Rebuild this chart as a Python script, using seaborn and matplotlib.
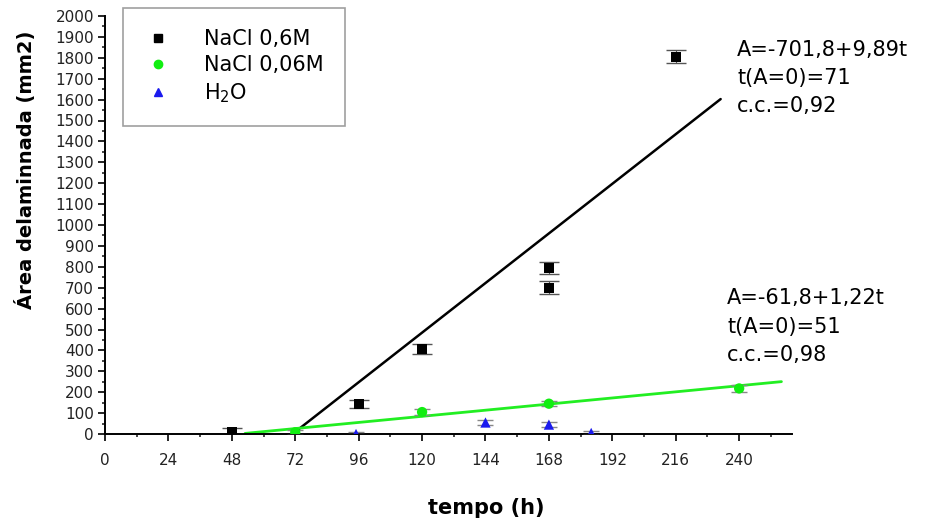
import numpy as np
import pandas as pd
import matplotlib
matplotlib.use("Agg")
import matplotlib.pyplot as plt
import seaborn as sns
from matplotlib.ticker import MultipleLocator
from matplotlib.lines import Line2D

sns.set_theme(style="ticks")
plt.rcParams['font.family'] = ['DejaVu Sans']
plt.rcParams['text.color'] = 'black'

# ---- data ----
t_nacl06 = [48, 96, 120, 168, 168, 216]
a_nacl06 = [8, 145, 408, 795, 700, 1805]
e_nacl06 = [20, 20, 25, 30, 30, 30]

t_nacl006 = [72, 120, 168, 240]
a_nacl006 = [8, 105, 145, 218]
e_nacl006 = [12, 15, 12, 15]

t_h2o = [95, 144, 168, 184]
a_h2o = [0, 55, 45, 5]
e_h2o = [8, 10, 12, 8]

# linear fits  A = a + b t
fit06_a, fit06_b = -701.8, 9.89
fit06_range = [71, 233]
fit006_a, fit006_b = -61.8, 1.22
fit006_range = [53, 256]

series_labels = ["NaCl 0,6M", "NaCl 0,06M", "H$_2$O"]
fit_texts = [["A=-701,8+9,89t", "t(A=0)=71", "c.c.=0,92"],
             ["A=-61,8+1,22t", "t(A=0)=51", "c.c.=0,98"]]
x_ticks = list(range(0, 241, 24))
y_ticks = list(range(0, 2001, 100))

fig = plt.figure(figsize=(9.3, 5.26), dpi=100)
ax = fig.add_axes([105/930, 1-434/526, (792-105)/930, (434-16)/526])

# fit lines
tl = np.array(fit06_range, dtype=float)
sns.lineplot(x=tl, y=fit06_a + fit06_b*tl, color="black", lw=1.8, ax=ax, legend=False)
tg = np.array(fit006_range, dtype=float)
sns.lineplot(x=tg, y=fit006_a + fit006_b*tg, color="#22ee22", lw=2.0, ax=ax, legend=False)

# error bars
ax.errorbar(t_nacl06, a_nacl06, yerr=e_nacl06, fmt='none', ecolor='#555555',
            elinewidth=0.8, capsize=7, capthick=1.0, zorder=3)
ax.errorbar(t_nacl006, a_nacl006, yerr=e_nacl006, fmt='none', ecolor='#888888',
            elinewidth=0.8, capsize=6, capthick=1.0, zorder=3)
ax.errorbar(t_h2o, a_h2o, yerr=e_h2o, fmt='none', ecolor='#888888',
            elinewidth=0.8, capsize=6, capthick=1.0, zorder=3)

# points
df = pd.concat([
    pd.DataFrame({"t": t_nacl06, "A": a_nacl06, "s": series_labels[0]}),
    pd.DataFrame({"t": t_nacl006, "A": a_nacl006, "s": series_labels[1]}),
    pd.DataFrame({"t": t_h2o, "A": a_h2o, "s": series_labels[2]}),
])
palette = {series_labels[0]: "black", series_labels[1]: "#11ee11", series_labels[2]: "#1a1aee"}
markers = {series_labels[0]: "s", series_labels[1]: "o", series_labels[2]: "^"}
sns.scatterplot(data=df, x="t", y="A", hue="s", style="s", palette=palette,
                markers=markers, s=55, edgecolor="none", ax=ax, zorder=4, legend=False)

ax.set_xlabel("")
ax.set_ylabel("")
ax.set_xlim(0, 260)
ax.set_ylim(0, 2000)
ax.set_xticks(x_ticks)
ax.set_yticks(y_ticks)
ax.xaxis.set_minor_locator(MultipleLocator(12))
ax.yaxis.set_minor_locator(MultipleLocator(50))
ax.tick_params(axis='both', which='major', length=5, width=1.2, labelsize=11, colors='black')
ax.tick_params(axis='both', which='minor', length=2.5, width=1.2)
for lab in ax.get_xticklabels() + ax.get_yticklabels():
    lab.set_color('#222222')
for sp in ["top", "right"]:
    ax.spines[sp].set_visible(False)
for sp in ["left", "bottom"]:
    ax.spines[sp].set_linewidth(1.4)
    ax.spines[sp].set_color("black")
ax.tick_params(axis='x', pad=9)
ax.tick_params(axis='y', pad=3)

# axis labels (placed like the reference)
fig.text(486/930, 1-508/526, "tempo (h)", fontsize=15, fontweight='bold',
         ha='center', va='center', color='black')
fig.text(26/930, 1-170/526, "Área delaminnada (mm2)", fontsize=14, fontweight='bold',
         ha='center', va='center', rotation=90, color='black')

# annotations
for i, line in enumerate(fit_texts[0]):
    fig.text(737/930, 1-(50+28*i)/526, line, fontsize=15, va='center', ha='left', color='black')
for i, line in enumerate(fit_texts[1]):
    fig.text(727/930, 1-(298+28.5*i)/526, line, fontsize=15, va='center', ha='left', color='black')

# legend
handles = [Line2D([], [], ls='none', marker=markers[l], color=palette[l], markersize=6)
           for l in series_labels]
leg = fig.legend(handles, series_labels, loc='upper left',
                 bbox_to_anchor=(123/930, 1-8/526), bbox_transform=fig.transFigure,
                 prop={'size': 15}, frameon=True, fancybox=False,
                 borderpad=1.0, handletextpad=1.5, labelspacing=0.3, handlelength=1.4,
                 borderaxespad=0)
for txt in leg.get_texts():
    txt.set_color('black')
leg.get_frame().set_edgecolor('#888888')
leg.get_frame().set_linewidth(1.2)

fig.savefig("out.png", dpi=100)
